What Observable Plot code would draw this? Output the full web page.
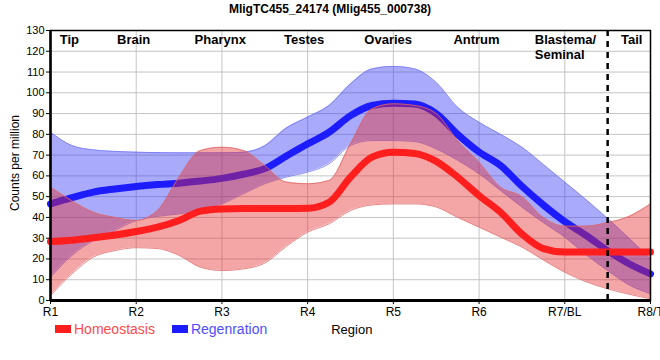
<!DOCTYPE html>
<html>
<head>
<meta charset="utf-8">
<script src="https://cdn.jsdelivr.net/npm/d3@7"></script>
<script src="https://cdn.jsdelivr.net/npm/@observablehq/plot@0.6"></script>
<style>
  body { margin: 0; background: #fff; font-family: "Liberation Sans", Arial, sans-serif; }
  #wrap { position: relative; width: 660px; height: 360px; overflow: hidden; }
  #title { position: absolute; top: 2px; left: 0; width: 660px; text-align: center; font-weight: bold; font-size: 12px; color: #000; }
  #ylab { position: absolute; left: 15px; top: 163px; transform: translate(-50%, -50%) rotate(-90deg); font-size: 12px; white-space: nowrap; }
  #legend { position: absolute; top: 321px; left: 55px; font-size: 14px; white-space: nowrap; }
  .sw { display: inline-block; width: 16px; height: 8px; vertical-align: middle; margin-right: 3px; position: relative; top: -1px; }
  #chart { position: absolute; left: 0; top: 0; }
</style>
</head>
<body>
<div id="wrap">
  <div id="chart"></div>
  <div id="title">MligTC455_24174 (Mlig455_000738)</div>
  <div id="ylab">Counts per million</div>
  <div id="legend"></div>
</div>
<script>
const regions = ["R1", "R2", "R3", "R4", "R5", "R6", "R7/BL", "R8/T"];
const regionNames = ["Tip", "Brain", "Pharynx", "Testes", "Ovaries", "Antrum", "Blastema/\nSeminal", "Tail"];
const regionNameX = [1.22, 1.97, 2.98, 3.96, 4.94, 5.97, 6.65, 7.78];
const regionNameAnchor = ["middle", "middle", "middle", "middle", "middle", "middle", "start", "middle"];
const yTicks = [0, 10, 20, 30, 40, 50, 60, 70, 80, 90, 100, 110, 120, 130];

const xs = [1, 1.25, 1.5, 1.75, 2, 2.25, 2.5, 2.75, 3, 3.25, 3.5, 3.75, 4, 4.25, 4.5, 4.75, 5, 5.25, 5.5, 5.75, 6, 6.25, 6.5, 6.75, 7, 7.25, 7.5, 7.75, 8];
const homeoMean = [28.4, 29, 30.2, 31.5, 33.2, 35.3, 38.5, 43, 44.1, 44.3, 44.3, 44.3, 44.4, 47.3, 59.4, 69, 71.4, 70.8, 67, 59.4, 50.5, 42.5, 32, 25, 23.3, 23.3, 23.3, 23.3, 23.3];
const homeoHigh = [54.6, 48, 42.5, 40, 38.5, 43.3, 59.4, 72.2, 73.8, 72.2, 65, 57, 56.2, 57.8, 75.4, 92.3, 94.7, 93.9, 90, 77, 66.6, 54.6, 50, 40, 35.8, 35.8, 37.5, 40.5, 46.5];
const homeoLow = [2.4, 12.8, 20.9, 24, 25.4, 25, 21.7, 16, 14.4, 15.2, 18, 26, 32.9, 36.9, 43.3, 46, 46.5, 46.5, 45, 40, 35.3, 30.5, 25.7, 19.5, 13.6, 9, 5.6, 3, 0.8];
const regenMean = [46.5, 49.5, 52.2, 53.7, 54.9, 55.8, 56.5, 57.5, 58.8, 60.8, 63.5, 69.5, 75.4, 81, 89, 93.9, 95, 94.6, 90, 80, 71.5, 65, 55, 46, 38, 31.3, 24, 17.7, 12.8];
const regenHigh = [81, 74.6, 72.5, 71.8, 71.4, 71.2, 71.1, 71.1, 71.1, 71.4, 74.5, 83, 88.3, 93.9, 104.3, 111.5, 112.7, 111.5, 105, 93, 85.8, 80, 73.8, 65.5, 57, 48.5, 39.5, 30, 20];
const regenLow = [11.2, 21.7, 28.9, 33.7, 38.5, 40.5, 41.7, 43.5, 46.5, 51.4, 56.2, 59.4, 61.8, 65.8, 74.6, 77, 77, 76.5, 73, 67.5, 61, 53, 45, 37.5, 30.5, 22, 14.4, 7.5, 3.2];
const boundaryX = [7.5];

const series = [
  {name: "Homeostasis", mean: homeoMean, low: homeoLow, high: homeoHigh, line: "#ff1e1e", fill: "#e52a2a", edge: "#e06a6a", text: "#ff4a4a"},
  {name: "Regenration", mean: regenMean, low: regenLow, high: regenHigh, line: "#1c1cff", fill: "#3336f2", edge: "#7678f2", text: "#4d4dff"}
];
const rows = series.map(s => xs.map((x, i) => ({x, mean: s.mean[i], low: s.low[i], high: s.high[i]})));
const curve = "monotone-x";

function bandMarks(s, data) {
  return [
    Plot.areaY(data, {x: "x", y1: "low", y2: "high", fill: s.fill, fillOpacity: 0.42, curve}),
    Plot.line(data, {x: "x", y: "high", stroke: s.edge, strokeWidth: 1, strokeOpacity: 0.8, curve}),
    Plot.line(data, {x: "x", y: "low", stroke: s.edge, strokeWidth: 1, strokeOpacity: 0.8, curve})
  ];
}
function lineMark(s, data) {
  return Plot.line(data, {x: "x", y: "mean", stroke: s.line, strokeWidth: 7, curve, strokeLinejoin: "round"});
}

const nameRows = regionNames.map((name, i) => ({name, x: regionNameX[i], anchor: regionNameAnchor[i]}));
function nameMark(anchor) {
  return Plot.text(nameRows.filter(d => d.anchor === anchor), {
    x: "x",
    y: 130,
    text: "name",
    textAnchor: anchor,
    lineAnchor: "top",
    dy: 3,
    lineHeight: 1.15,
    fontWeight: "bold",
    fontSize: 13,
    fill: "#000"
  });
}

const chart = Plot.plot({
  width: 660,
  height: 360,
  marginTop: 30,
  marginLeft: 50,
  marginRight: 10,
  marginBottom: 60,
  style: {fontFamily: "Liberation Sans, Arial, sans-serif", fontSize: "11px", color: "#000", background: "transparent"},
  x: {domain: [1, 8], label: null},
  y: {domain: [0, 130], label: null},
  marks: [
    Plot.ruleY(yTicks, {stroke: "#c4c4c4", strokeWidth: 1}),
    Plot.ruleX(xs.filter(x => Number.isInteger(x) && x > 1 && x < 8), {stroke: "#c4c4c4", strokeWidth: 1}),
    ...bandMarks(series[1], rows[1]),
    lineMark(series[1], rows[1]),
    ...bandMarks(series[0], rows[0]),
    lineMark(series[0], rows[0]),
    Plot.ruleX(boundaryX, {stroke: "#000", strokeWidth: 2.5, strokeDasharray: "6,5"}),
    Plot.frame({stroke: "#000", strokeWidth: 1.5}),
    Plot.ruleY([0], {stroke: "#000", strokeWidth: 3}),
    Plot.ruleX([1], {stroke: "#000", strokeWidth: 2.5}),
    Plot.axisX([1, 2, 3, 4, 5, 6, 7, 8], {tickFormat: d => regions[d - 1], tickSize: 4, tickPadding: 3, fontSize: 12, label: null}),
    Plot.axisY(yTicks, {tickSize: 4, tickPadding: 2, fontSize: 11, label: null}),
    nameMark("middle"),
    nameMark("start")
  ]
});
document.getElementById("chart").appendChild(chart);

const legend = document.getElementById("legend");
series.forEach((s, i) => {
  const item = document.createElement("span");
  item.style.color = s.text;
  item.style.marginRight = i === 0 ? "17px" : "64px";
  item.innerHTML = `<span class="sw" style="background:${s.line}"></span>${s.name}`;
  legend.appendChild(item);
});
const reg = document.createElement("span");
reg.textContent = "Region";
reg.style.color = "#000";
reg.style.fontSize = "13px";
legend.appendChild(reg);
</script>
</body>
</html>
